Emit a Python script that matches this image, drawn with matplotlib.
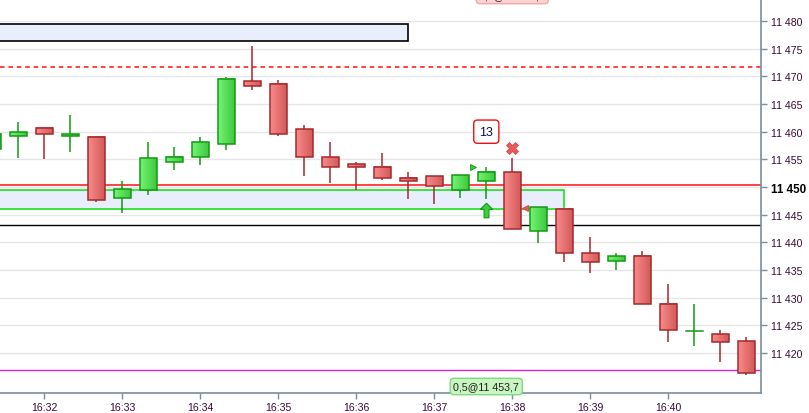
import numpy as np
import matplotlib
matplotlib.use("Agg")
import matplotlib.pyplot as plt
from matplotlib.patches import Rectangle
from matplotlib.colors import LinearSegmentedColormap
from matplotlib.path import Path

plt.rcParams['font.family'] = ['Liberation Sans', 'DejaVu Sans']

# -----------------------
# Data (20 s candles)
# -----------------------
times = ["16:31:20", "16:31:40", "16:32:00", "16:32:20", "16:32:40", "16:33:00",
         "16:33:20", "16:33:40", "16:34:00", "16:34:20", "16:34:40", "16:35:00",
         "16:35:20", "16:35:40", "16:36:00", "16:36:20", "16:36:40", "16:37:00",
         "16:37:20", "16:37:40", "16:38:00", "16:38:20", "16:38:40", "16:39:00",
         "16:39:20", "16:39:40", "16:40:00", "16:40:20", "16:40:40", "16:41:00"]
opens  = [11456.8, 11459.3, 11460.6, 11459.2, 11459.0, 11448.1, 11449.5, 11454.5,
          11455.5, 11457.7, 11469.1, 11468.6, 11460.4, 11455.4, 11454.1, 11453.6,
          11451.6, 11451.9, 11449.5, 11451.0, 11452.8, 11442.1, 11446.0, 11438.0,
          11436.6, 11437.6, 11428.8, 11423.9, 11423.4, 11422.1]
highs  = [11460.5, 11461.8, 11460.6, 11463.0, 11459.0, 11451.1, 11458.1, 11457.2,
          11459.0, 11469.8, 11475.5, 11469.3, 11461.2, 11458.1, 11454.5, 11456.1,
          11452.7, 11451.9, 11452.1, 11453.6, 11455.2, 11446.3, 11446.0, 11441.0,
          11438.1, 11438.4, 11432.5, 11428.9, 11424.2, 11422.9]
lows   = [11455.5, 11455.3, 11455.1, 11456.4, 11447.3, 11445.3, 11448.6, 11453.1,
          11454.0, 11456.7, 11467.6, 11459.3, 11451.9, 11450.8, 11449.4, 11451.3,
          11447.9, 11447.0, 11448.0, 11447.8, 11442.5, 11439.9, 11436.4, 11434.5,
          11435.0, 11428.8, 11421.9, 11421.2, 11418.4, 11416.1]
closes = [11459.6, 11459.9, 11459.5, 11459.5, 11447.6, 11449.6, 11455.2, 11455.5,
          11458.1, 11469.5, 11468.2, 11459.5, 11455.4, 11453.7, 11453.6, 11451.6,
          11451.0, 11450.1, 11452.1, 11452.8, 11442.5, 11446.3, 11438.0, 11436.4,
          11437.5, 11428.8, 11424.1, 11423.9, 11422.0, 11416.4]

time_ticks = ["16:32", "16:33", "16:34", "16:35", "16:36", "16:37", "16:38", "16:39", "16:40"]
price_ticks = [11420, 11425, 11430, 11435, 11440, 11445, 11450, 11455, 11460,
               11465, 11470, 11475, 11480]
current_price_tick = 11450

# levels / drawings
stop_level = 11471.6        # red dashed
last_level = 11450.3        # red solid
black_level = 11443.1
magenta_level = 11416.9
zone_top = (11476.3, 11479.4, "16:36:40")    # blue zone, black border
zone_green = (11446.0, 11449.4, "16:38:40")  # blue zone, green border

# signals
count_label = ("16:37:40", 11460.0, "13")
exit_mark = ("16:38:00", 11457.0)
buy_arrow = ("16:37:40", 11445.9)
entry_tri = ("16:37:30", 11453.6)
exit_tri = ("16:38:10", 11446.2)
order_label = ("16:37:40", "0,5@11 453,7")
order_label_top = ("16:38:00", "0,5@11 471,6")


def to_min(s):
    parts = [int(p) for p in s.split(":")]
    while len(parts) < 3:
        parts.append(0)
    return parts[0] * 60 + parts[1] + parts[2] / 60.0


x = np.array([to_min(t) for t in times])
width = 13 / 60.0

red_edge = "#a4282c"
green_edge = "#119a11"
red_cmap = LinearSegmentedColormap.from_list("r", ["#f98a8a", "#d25a5a"])
green_cmap = LinearSegmentedColormap.from_list("g", ["#74f474", "#3ec83e"])
grad = np.linspace(0, 1, 64).reshape(1, -1)

fig = plt.figure(figsize=(8.09, 4.14), dpi=100)
ax = fig.add_axes([0.0, 20 / 414, 760.7 / 809, 394 / 414])

x0, x1 = to_min("16:32") - 34.1 / 60, to_min("16:32") + 551.1 / 60
y0, y1 = 11412.77, 11483.98

# grid
for p in price_ticks:
    ax.axhline(p, color="#e6e6e6", lw=1.0, zorder=0)

# zones
lo, hi, end = zone_top
ax.add_patch(Rectangle((x0 - 5, lo), to_min(end) - x0 + 5, hi - lo,
                       fc="#e9eefc", ec="black", lw=1.2, zorder=1))
lo, hi, end = zone_green
ax.add_patch(Rectangle((x0 - 5, lo), to_min(end) - x0 + 5, hi - lo,
                       fc="#e9eefc", ec="#1ee01e", lw=1.2, zorder=1))

# level lines
ax.axhline(stop_level, color="#ff1010", lw=1.1, ls=(0, (3, 2.5)), zorder=1)
ax.axhline(last_level, color="#ff1010", lw=1.1, zorder=1)
ax.axhline(black_level, color="black", lw=1.0, zorder=1)
ax.axhline(magenta_level, color="#e020e0", lw=1.0, zorder=1)

# candles
for xi, o, h, l, c in zip(x, opens, highs, lows, closes):
    up = c >= o
    edge = green_edge if up else red_edge
    cmap = green_cmap if up else red_cmap
    ax.plot([xi, xi], [l, h], color=edge, lw=1.1, zorder=2, solid_capstyle="butt")
    bot, top = min(o, c), max(o, c)
    if top - bot < 0.05:
        ax.plot([xi - width / 2, xi + width / 2], [o, o], color=edge, lw=1.1, zorder=4)
        continue
    ax.imshow(grad, cmap=cmap, aspect="auto", interpolation="bilinear",
              extent=[xi - width / 2, xi + width / 2, bot, top], zorder=3)
    ax.add_patch(Rectangle((xi - width / 2, bot), width, top - bot,
                           fc="none", ec=edge, lw=1.1, zorder=4))

# signals
t, p, s = count_label
ax.text(to_min(t), p, s, ha="center", va="center", fontsize=9, color="#101040", zorder=6,
        bbox=dict(boxstyle="round,pad=0.45,rounding_size=0.3", fc="white", ec="#ee1111", lw=1.0))
ax.plot(to_min(exit_mark[0]), exit_mark[1], marker="X", ms=8.5, color="#e85a5a",
        mec="#d84040", mew=0.5, zorder=6)
arrow = Path([(0, 0.6), (0.5, 0.1), (0.2, 0.1), (0.2, -0.6), (-0.2, -0.6),
              (-0.2, 0.1), (-0.5, 0.1), (0, 0.6)])
ax.plot(to_min(buy_arrow[0]), buy_arrow[1], marker=arrow, ms=10.5, color="#3ad03a",
        mec="#119a11", mew=0.8, zorder=6)
ax.plot(to_min(entry_tri[0]), entry_tri[1], marker=">", ms=5, color="#33cc33",
        mec="#119a11", mew=0.6, zorder=6)
ax.plot(to_min(exit_tri[0]), exit_tri[1], marker="<", ms=5, color="#e85a5a",
        mec="#d84040", mew=0.6, zorder=6)

# order labels
t, s = order_label
ax.annotate(s, xy=(to_min(t), 0), xycoords=("data", "axes fraction"),
            xytext=(0, 1.5), textcoords="offset pixels", ha="center", va="bottom",
            fontsize=7.7, color="#202020", zorder=7, annotation_clip=False,
            bbox=dict(boxstyle="round,pad=0.3,rounding_size=0.35", fc="#c8f5c2", ec="#80d880", lw=1.0))
t, s = order_label_top
txt = ax.annotate(s, xy=(to_min(t), 1), xycoords=("data", "axes fraction"),
                  xytext=(0, -1.5), textcoords="offset pixels", ha="center", va="bottom",
                  fontsize=7.7, color="#202020", zorder=7,
                  bbox=dict(boxstyle="round,pad=0.3,rounding_size=0.35", fc="#ffd2d2", ec="#f0a8a8", lw=1.0))
txt.set_clip_on(True)

# axes styling
ax.set_xlim(x0, x1)
ax.set_ylim(y0, y1)
ax.set_facecolor("white")
for side in ["top", "left"]:
    ax.spines[side].set_visible(False)
axis_col = "#7a8e9c"
for side in ["right", "bottom"]:
    ax.spines[side].set_color(axis_col)
    ax.spines[side].set_linewidth(1.2)

ax.yaxis.tick_right()
ax.set_yticks(price_ticks)
ax.set_yticklabels([f"{p:,}".replace(",", " ") for p in price_ticks])
ax.set_xticks([to_min(t) for t in time_ticks])
ax.set_xticklabels(time_ticks)
ax.tick_params(axis="both", colors=axis_col, length=4.5, width=1.0, labelsize=7.6,
               labelcolor="#3a0a38", direction="out")
ax.tick_params(axis="y", pad=3)
ax.tick_params(axis="x", pad=2)
for lab in ax.get_yticklabels():
    if lab.get_text() == f"{current_price_tick:,}".replace(",", " "):
        lab.set_fontweight("bold")
        lab.set_color("black")
        lab.set_fontsize(8.4)

fig.savefig("out.png", dpi=100)
